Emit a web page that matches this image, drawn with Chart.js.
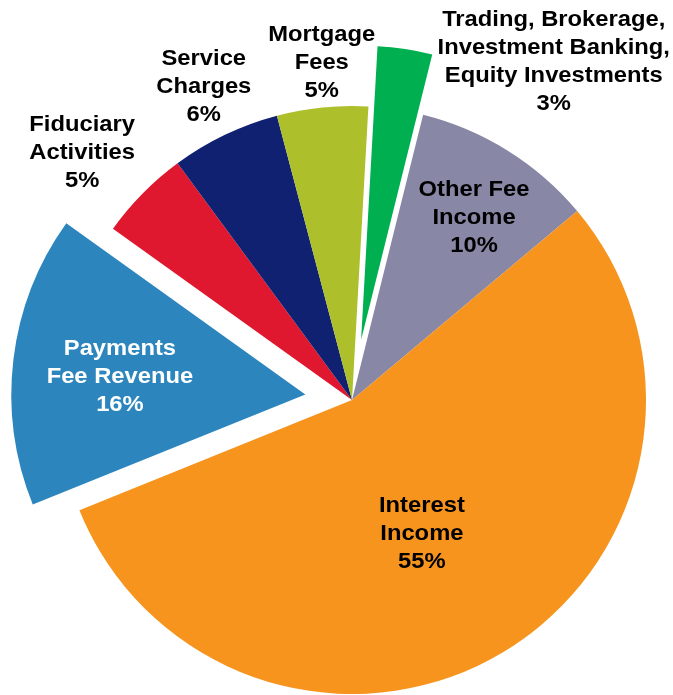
<!DOCTYPE html>
<html>
<head>
<meta charset="utf-8">
<script src="https://cdn.jsdelivr.net/npm/chart.js@4"></script>
<style>
  html, body { margin: 0; padding: 0; background: #fff; }
  #wrap { width: 673px; height: 695px; position: relative; }
</style>
</head>
<body>
<div id="wrap"><canvas id="revenue-pie"></canvas></div>
<script>
// revenue mix, clockwise from the top
const categories = ['Other Fee Income', 'Interest Income', 'Payments Fee Revenue', 'Fiduciary Activities',
                    'Service Charges', 'Mortgage Fees', 'Trading, Brokerage, Investment Banking, Equity Investments']
const shares     = [10, 55, 16, 5, 6, 5, 3]
const labelLines = [
  ['Other Fee', 'Income'],
  ['Interest', 'Income'],
  ['Payments', 'Fee Revenue'],
  ['Fiduciary', 'Activities'],
  ['Service', 'Charges'],
  ['Mortgage', 'Fees'],
  ['Trading, Brokerage,', 'Investment Banking,', 'Equity Investments']
]

const sliceColors = ['#8887a5', '#f7941e', '#2c86bd', '#df1830', '#0f2170', '#adbf2b', '#00b050']
const textColors  = ['#000', '#000', '#fff', '#000', '#000', '#000', '#000']

// pulled-out slices, in px
const explode = [0, 0, 47, 0, 0, 0, 61]

// label block placement: distance as fraction of radius, angle nudge in degrees from slice middle
const labelPlace = [
  { r: 0.75,  da: 1.6 },
  { r: 0.508, da: 3.1 },
  { r: 0.794, da: -0.6 },
  { r: 1.249, da: -1.9 },
  { r: 1.184, da: 0.4 },
  { r: 1.158, da: 0.7 },
  { r: 1.344, da: 22.1 }
]

const RADIUS = 294
const LINE_H = 28

const explodePlugin = {
  id: 'explode',
  afterDatasetUpdate(chart, args) {
    args.meta.data.forEach((arc, i) => {
      if (!explode[i] || arc._exploded) return
      const draw = arc.draw.bind(arc)
      arc.draw = ctx => {
        const mid = (arc.startAngle + arc.endAngle) / 2
        ctx.save()
        ctx.translate(Math.cos(mid) * explode[i], Math.sin(mid) * explode[i])
        draw(ctx)
        ctx.restore()
      }
      arc._exploded = true
    })
  }
}

const labelPlugin = {
  id: 'sliceLabels',
  afterDatasetsDraw(chart) {
    const ctx = chart.ctx
    const meta = chart.getDatasetMeta(0)
    ctx.save()
    ctx.font = 'bold 22px "Liberation Sans", Arial, sans-serif'
    ctx.textAlign = 'center'
    ctx.textBaseline = 'middle'
    meta.data.forEach((arc, i) => {
      const p = labelPlace[i]
      const mid = (arc.startAngle + arc.endAngle) / 2 + p.da * Math.PI / 180
      const cx = arc.x + Math.cos(mid) * arc.outerRadius * p.r
      const cy = arc.y + Math.sin(mid) * arc.outerRadius * p.r + 2
      const lines = labelLines[i].concat([shares[i] + '%'])
      ctx.fillStyle = textColors[i]
      lines.forEach((line, k) => {
        const dy = (k - (lines.length - 1) / 2) * LINE_H
        ctx.save()
        ctx.translate(cx, cy + dy)
        ctx.scale(1.08, 1)
        ctx.fillText(line, 0, 0)
        ctx.restore()
      })
    })
    ctx.restore()
  }
}

new Chart(document.getElementById('revenue-pie'), {
  type: 'pie',
  data: {
    labels: categories,
    datasets: [{
      data: shares,
      backgroundColor: sliceColors,
      borderWidth: 0,
      radius: RADIUS
    }]
  },
  options: {
    responsive: true,
    maintainAspectRatio: false,
    animation: false,
    rotation: 14,
    layout: { padding: { left: 31, right: 0, top: 105, bottom: 0 } },
    plugins: {
      legend: { display: false },
      tooltip: { enabled: false }
    },
    events: []
  },
  plugins: [explodePlugin, labelPlugin]
})
</script>
</body>
</html>
